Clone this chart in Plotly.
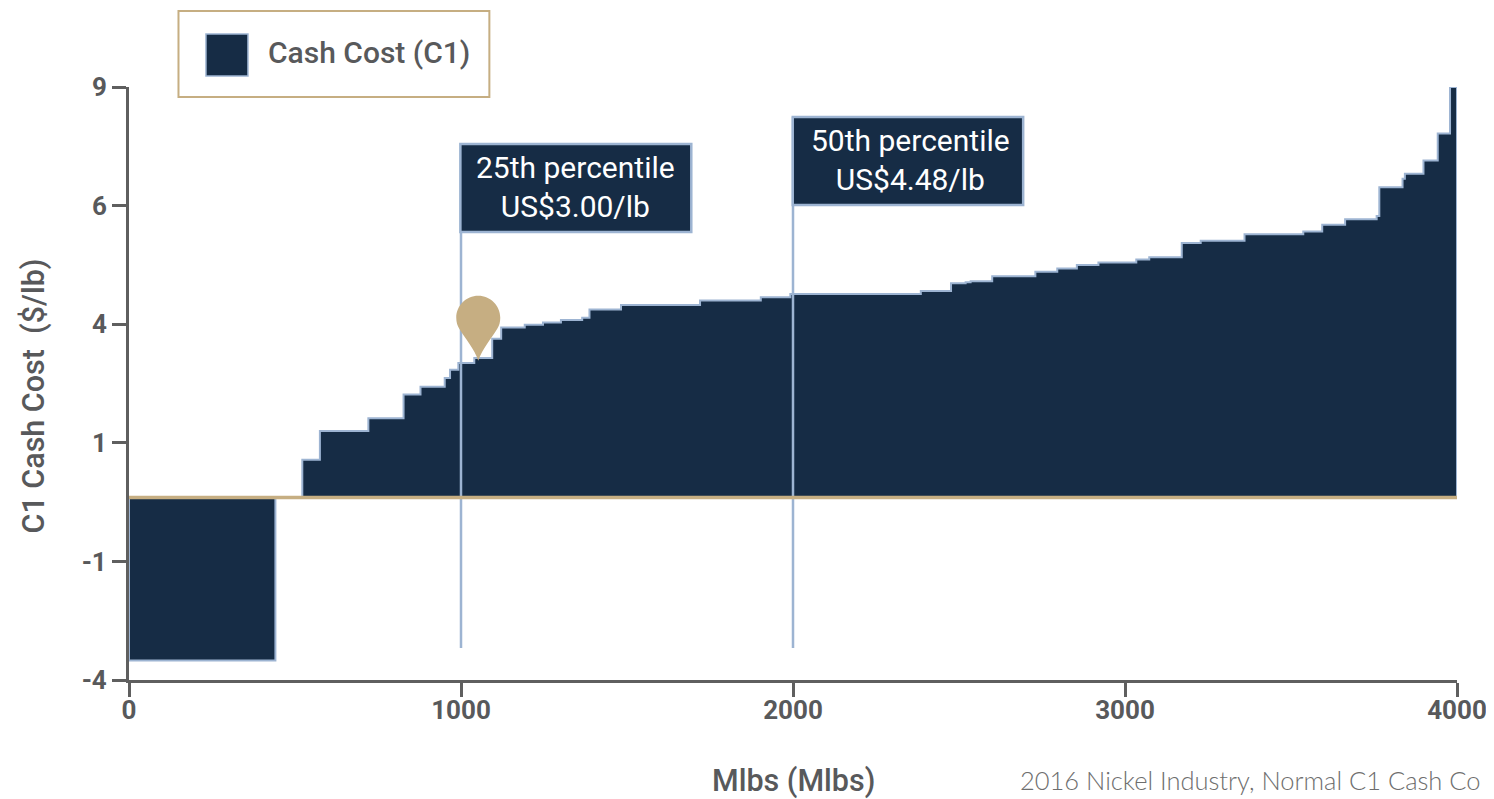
import plotly.graph_objects as go

# Data
bar_left = [0, 522, 575, 721, 827, 878, 951, 967, 992, 1040, 1094, 1121, 1192, 1247, 1301, 1365,
            1387, 1482, 1720, 1903, 1992, 2385, 2476, 2520, 2535, 2600, 2730, 2796, 2855, 2920,
            3034, 3073, 3171, 3228, 3360, 3537, 3594, 3663, 3758, 3766, 3836, 3843, 3899, 3942, 3979]
bar_right = [441, 575, 721, 827, 878, 951, 967, 992, 1040, 1094, 1121, 1192, 1247, 1301, 1365, 1387,
             1482, 1720, 1903, 1992, 2385, 2476, 2520, 2535, 2600, 2730, 2796, 2855, 2920, 3034,
             3073, 3171, 3228, 3360, 3537, 3594, 3663, 3758, 3766, 3836, 3843, 3899, 3942, 3979, 4000]
cash_cost = [-3.57, 0.83, 1.46, 1.74, 2.26, 2.43, 2.62, 2.80, 2.95, 3.06, 3.48, 3.73, 3.79, 3.84, 3.89, 3.94,
             4.12, 4.22, 4.32, 4.39, 4.46, 4.53, 4.70, 4.72, 4.74, 4.85, 4.95, 5.02, 5.10, 5.15,
             5.22, 5.27, 5.58, 5.63, 5.77, 5.83, 5.98, 6.10, 6.17, 6.80, 6.99, 7.10, 7.39, 7.98, 9.0]
x_ticks = [0, 1000, 2000, 3000, 4000]
y_ticks = [-4, -1.4, 1.2, 3.8, 6.4, 9]
y_tick_labels = ["-4", "-1", "1", "4", "6", "9"]
percentile_x = [1000, 2000]
percentile_labels = ["25th percentile<br>US$3.00/lb", "50th percentile<br>US$4.48/lb"]
series_name = "Cash Cost (C1)"
source_note = "2016 Nickel Industry, Normal C1 Cash Co"

NAVY = "#162C45"
EDGE = "#9DB4D2"
TAN = "#C6AE82"
GREY = "#58595B"
FONT = "Roboto"

# page pixel -> paper helpers (plot area spans 128.5..1457 by 87..680 on the page)
PX0, PX1, PY0, PY1 = 128.5, 1457.0, 87.0, 680.0
def xp(px):
    return (px - PX0) / (PX1 - PX0)
def yp(py):
    return (PY1 - py) / (PY1 - PY0)

fig = go.Figure()
widths = [r - l for l, r in zip(bar_left, bar_right)]
fig.add_trace(go.Bar(x=bar_left, y=cash_cost, width=widths, offset=0, name=series_name,
                     marker=dict(color=NAVY, line=dict(width=0)), showlegend=False))

ox, oy = [0, 0, bar_right[0], bar_right[0], 0, None], [0, cash_cost[0], cash_cost[0], 0, 0, None]
ox += [bar_left[1]]
oy += [0]
for l, r, v in zip(bar_left[1:], bar_right[1:], cash_cost[1:]):
    ox += [l, r]
    oy += [v, v]
ox += [bar_right[-1]]
oy += [0]
fig.add_trace(go.Scatter(x=ox, y=oy, mode="lines", line=dict(color=EDGE, width=2),
                         hoverinfo="skip", showlegend=False))

shapes = []
# percentile leader lines
for xv, top in zip(percentile_x, [144, 117]):
    shapes.append(dict(type="line", xref="x", yref="paper", x0=xv, x1=xv, y0=yp(648), y1=yp(top),
                       line=dict(color=EDGE, width=2.5), layer="above"))
# zero line
shapes.append(dict(type="line", xref="x", yref="y", x0=0, x1=4000, y0=0, y1=0,
                   line=dict(color=TAN, width=3.5), layer="above"))
# percentile boxes
for (x0, x1, y0, y1) in [(460, 691, 144, 232), (792.5, 1023, 117, 205)]:
    shapes.append(dict(type="rect", xref="paper", yref="paper", x0=xp(x0), x1=xp(x1), y0=yp(y0), y1=yp(y1),
                       fillcolor=NAVY, line=dict(color=EDGE, width=2.5), layer="above"))
# legend box and swatch
shapes.append(dict(type="rect", xref="paper", yref="paper", x0=xp(178), x1=xp(489), y0=yp(11), y1=yp(97),
                   fillcolor="white", line=dict(color=TAN, width=2), layer="above"))
shapes.append(dict(type="rect", xref="paper", yref="paper", x0=xp(205.5), x1=xp(247.5), y0=yp(34), y1=yp(76),
                   fillcolor=NAVY, line=dict(color=EDGE, width=1.5), layer="above"))
# pin marker, anchored at its tip
k = 0.5523 * 22
pin = (f"M0,0 C-4,12 -13,22 -19,32 C-21,35 -22,39 -22,43 C-22,{43+k} {-k},65 0,65 "
       f"C{k},65 22,{43+k} 22,43 C22,39 21,35 19,32 C13,22 4,12 0,0 Z")
shapes.append(dict(type="path", xref="x", yref="y", xsizemode="pixel", ysizemode="pixel",
                   xanchor=1052, yanchor=3.0, path=pin, fillcolor=TAN, line=dict(width=0), layer="above"))

annotations = []
for text, cx, cy in zip(percentile_labels, [575.5, 910], [187, 160]):
    annotations.append(dict(text=text, xref="paper", yref="paper", x=xp(cx), y=yp(cy), showarrow=False,
                            xanchor="center", yanchor="middle",
                            font=dict(family=FONT, size=30, color="white")))
annotations.append(dict(text=series_name, xref="paper", yref="paper", x=xp(266), y=yp(53), showarrow=False,
                        xanchor="left", yanchor="middle", font=dict(family=FONT, size=30, color=GREY, weight=500)))
annotations.append(dict(text="C1 Cash Cost  ($/lb)", xref="paper", yref="paper", x=xp(33), y=yp(396),
                        showarrow=False, textangle=-90, xanchor="center", yanchor="middle",
                        font=dict(family=FONT, size=30.5, color=GREY, weight=500)))
annotations.append(dict(text="Mlbs (Mlbs)", xref="paper", yref="paper", x=xp(793), y=yp(780.5),
                        showarrow=False, xanchor="center", yanchor="middle",
                        font=dict(family=FONT, size=30.5, color=GREY, weight=500)))
annotations.append(dict(text=source_note, xref="paper", yref="paper",
                        x=xp(1018), y=yp(780), showarrow=False, xanchor="left", yanchor="middle",
                        font=dict(family="Lato", size=25.5, color="#6E6E6E", weight=300)))

axis_common = dict(showgrid=False, zeroline=False, showline=True, linecolor="#5F5F5F", linewidth=3,
                   ticks="outside", ticklen=14, tickwidth=3, tickcolor="#5F5F5F", automargin=False,
                   tickfont=dict(family=FONT, size=26, color=GREY, weight="bold"))
fig.update_layout(
    width=1486, height=791, margin=dict(l=120.5, r=37, t=79, b=119), autosize=False,
    paper_bgcolor="white", plot_bgcolor="white", bargap=0, showlegend=False,
    xaxis=dict(range=[0, 4000], tickvals=x_ticks, ticklabelstandoff=-9, **axis_common),
    yaxis=dict(range=[-4, 9], tickvals=y_ticks, ticktext=y_tick_labels, **axis_common),
    shapes=shapes, annotations=annotations,
)

fig.write_html("out.html")
